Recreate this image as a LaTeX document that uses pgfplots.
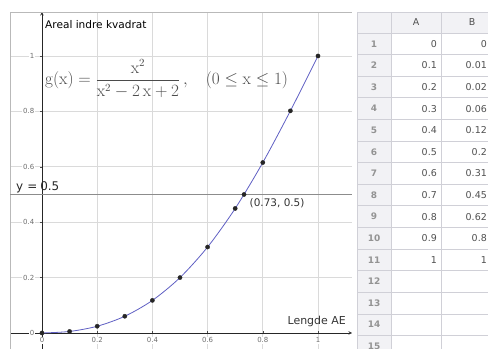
\documentclass[border=0pt]{standalone}
\usepackage[no-math]{fontspec}
\setmainfont{DejaVu Sans}
\usepackage{pgfplots}
\usepackage{pgfplotstable}
\pgfplotsset{compat=1.18}

\definecolor{curve}{RGB}{95,95,195}
\definecolor{gridc}{RGB}{218,218,218}
\definecolor{sheetbg}{RGB}{242,242,245}
\definecolor{sheetline}{RGB}{208,208,215}
\definecolor{ticktext}{RGB}{110,110,110}
\definecolor{hline}{RGB}{140,140,140}
\definecolor{formula}{RGB}{75,75,75}
\definecolor{cellText}{RGB}{80,80,80}

% Table: x = side length AE, y = area of the inner square
\pgfplotstableread{
x    y
0    0
0.1  0.00552
0.2  0.02439
0.3  0.06040
0.4  0.11765
0.5  0.20000
0.6  0.31034
0.7  0.44954
0.8  0.61538
0.9  0.80198
1    1
}\areatable

\begin{document}
\begin{tikzpicture}
\path[use as bounding box] (0bp,0bp) rectangle (488bp,349bp);

\begin{axis}[
  at={(10bp,0bp)}, anchor=south west,
  scale only axis, width=342bp, height=337bp,
  xmin=-0.1159, xmax=1.1232, ymin=-0.0578, ymax=1.1588,
  axis lines=middle,
  axis line style={black!85, line width=0.6bp},
  grid=major, grid style={gridc, line width=0.6bp},
  xtick={0,0.2,0.4,0.6,0.8,1},
  ytick={0,0.2,0.4,0.6,0.8,1},
  hide obscured x ticks=false, hide obscured y ticks=false,
  major tick length=3bp, tick align=center,
  tick style={black!70, line width=0.5bp},
  /pgf/number format/assume math mode=true,
  tick label style={font=\fontsize{7}{8}\selectfont, text=ticktext,
                    fill=white, inner sep=1bp},
  yticklabel style={xshift=-5bp},
  xticklabel style={yshift=-2bp},
  clip=false,
]
  % frame of the drawing area
  \draw[gray!55, line width=0.6bp] (rel axis cs:0,0) -- (rel axis cs:0,1) -- (rel axis cs:1,1);

  % horizontal line y = 0.5
  \addplot[hline, line width=1.6bp] coordinates {(-0.1159,0.5) (1.1232,0.5)};

  % curve through the table points
  \addplot[curve, line width=0.8bp, smooth] table[x=x, y=y] {\areatable};
  \addplot[only marks, mark=*, mark size=2.1bp, black!85] table[x=x, y=y] {\areatable};

  % intersection with y = 0.5
  \addplot[only marks, mark=*, mark size=2.1bp, black!85] coordinates {(0.73205,0.5)};
  \node[anchor=north west, font=\fontsize{10.5}{12}\selectfont, text=black!80,
        inner sep=0pt] at (axis cs:0.752,0.485) {(0.73, 0.5)};

  \node[anchor=south west, inner sep=0pt, font=\fontsize{12}{14}\selectfont, text=black!85]
    at (axis cs:-0.094,0.505) {y\hspace{4bp}=\hspace{3bp}0.5};
\end{axis}

% axis titles and formula
\node[anchor=west, inner sep=0pt, font=\fontsize{10.6}{12}\selectfont] at (45bp,324bp)
  {Areal indre kvadrat};
\node[anchor=base east, inner sep=0pt, font=\fontsize{11}{12}\selectfont, text=black!80]
  at (346bp,25bp) {Lengde AE};
\node[anchor=west, inner sep=0pt, text=formula, font=\fontsize{16}{18}\selectfont]
  at (45bp,270bp)
  {$\displaystyle\mathrm{g}(\mathrm{x}) = \frac{\mathrm{x}^2}{\mathrm{x}^2 - 2\,\mathrm{x} + 2}\,,
    \hspace{15bp} (0 \le \mathrm{x} \le 1)$};

% spreadsheet
\begin{scope}[x=1bp, y=1bp]
  \fill[white] (352,0) rectangle (488,337);
  \fill[sheetbg] (357,0) rectangle (391,337);
  \fill[sheetbg] (357,316) rectangle (488,337);
  \draw[sheetline, line width=0.6bp] (357,337) -- (488,337);
  \foreach \i in {0,...,15} {
    \pgfmathsetmacro\yy{316-21.6*\i}
    \draw[sheetline, line width=0.6bp] (357,\yy) -- (488,\yy);
  }
  \draw[sheetline, line width=0.6bp] (357,0) -- (357,337);
  \draw[sheetline, line width=0.6bp] (391,0) -- (391,337);
  \draw[sheetline, line width=0.6bp] (441,0) -- (441,337);
  \node[font=\fontsize{9.5}{11}\selectfont, text=cellText] at (416,326.5) {A};
  \node[font=\fontsize{9.5}{11}\selectfont, text=cellText] at (472,326.5) {B};
  \foreach \i in {1,...,15} {
    \pgfmathsetmacro\yy{316-21.6*(\i-0.5)}
    \node[font=\bfseries\fontsize{9}{11}\selectfont, text=gray!85] at (374,\yy) {\i};
  }
  \foreach \a/\b [count=\i] in {0/0, 0.1/0.01, 0.2/0.02, 0.3/0.06, 0.4/0.12, 0.5/0.2,
      0.6/0.31, 0.7/0.45, 0.8/0.62, 0.9/0.8, 1/1} {
    \pgfmathsetmacro\yy{316-21.6*(\i-0.5)}
    \node[anchor=east, inner sep=0pt, font=\fontsize{9.5}{11}\selectfont, text=cellText]
      at (437,\yy) {\a};
    \node[anchor=east, inner sep=0pt, font=\fontsize{9.5}{11}\selectfont, text=cellText]
      at (487,\yy) {\b};
  }
\end{scope}
\end{tikzpicture}
\end{document}
